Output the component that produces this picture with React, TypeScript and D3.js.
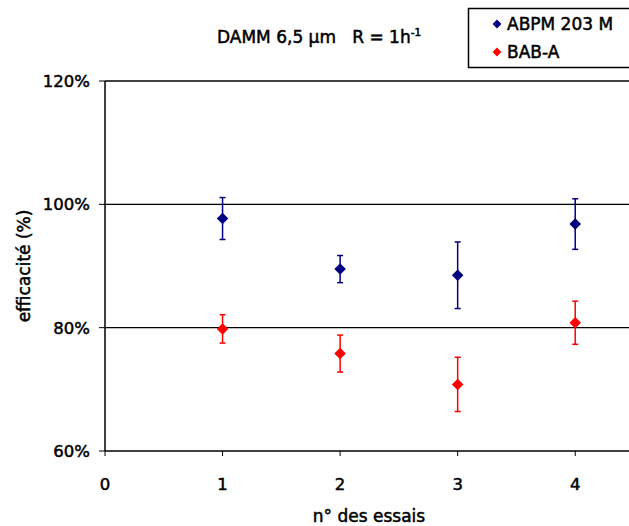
import React from 'react'
import * as d3 from 'd3'

// n° des essais
const trials = [1, 2, 3, 4]
// efficacité (%) and error half-widths
const abpmValues = [97.7, 89.5, 88.5, 96.8]
const abpmErrors = [3.4, 2.2, 5.4, 4.1]
const babValues = [79.8, 75.8, 70.8, 80.8]
const babErrors = [2.3, 3.0, 4.4, 3.5]
const yTicks = [60, 80, 100, 120]
const xTicks = [0, 1, 2, 3, 4]
const seriesNames = ['ABPM 203 M', 'BAB-A']
const seriesColors = ['#000080', '#FF0000']

const W = 629
const H = 526
const FONT = "'DejaVu Sans', sans-serif"

// slightly heavier than the regular weight
const txt = { fill: '#000', stroke: '#000', strokeWidth: 0.5 }

export default function App() {
  const x = d3.scaleLinear().domain([0, 4.5]).range([105, 634])
  const y = d3.scaleLinear().domain([60, 120]).range([451, 81])

  const series = [
    { name: seriesNames[0], color: seriesColors[0], values: abpmValues, errors: abpmErrors },
    { name: seriesNames[1], color: seriesColors[1], values: babValues, errors: babErrors },
  ]

  const diamond = d3.symbol(d3.symbolDiamond2, 85)()
  const smallDiamond = d3.symbol(d3.symbolDiamond2, 50)()

  return (
    <svg width={W} height={H} style={{ position: 'absolute', left: 0, top: 0, background: '#fff' }}
      fontFamily={FONT}>
      {/* gridlines */}
      {yTicks.filter(t => t > 60 && t < 120).map(t => (
        <line key={t} x1={x(0)} x2={W} y1={y(t)} y2={y(t)} stroke="#000" strokeWidth={1.3} />
      ))}
      {/* plot frame */}
      <line x1={x(0)} x2={W} y1={y(120)} y2={y(120)} stroke="#000" strokeWidth={1.5} />
      <line x1={x(0)} x2={W} y1={y(60)} y2={y(60)} stroke="#000" strokeWidth={1.5} />
      <line x1={x(0)} x2={x(0)} y1={y(120)} y2={y(60)} stroke="#000" strokeWidth={1.5} />

      {/* y axis */}
      {yTicks.map(t => (
        <g key={t}>
          <line x1={x(0) - 6} x2={x(0)} y1={y(t)} y2={y(t)} stroke="#000" strokeWidth={1} />
          <text x={90} y={y(t)} dy="0.36em" textAnchor="end" fontSize={16.5} {...txt}>{t}%</text>
        </g>
      ))}
      {/* x axis */}
      {xTicks.map(t => (
        <g key={t}>
          <line x1={x(t)} x2={x(t)} y1={y(60)} y2={y(60) + 5} stroke="#000" strokeWidth={1} />
          <text x={x(t)} y={484} dy="0.36em" textAnchor="middle" fontSize={16.5} {...txt}>{t}</text>
        </g>
      ))}

      <text x={369} y={516} dy="0.36em" textAnchor="middle" fontSize={17} {...txt}>n°  des essais</text>
      <text transform={`translate(24,266) rotate(-90)`} dy="0.36em" textAnchor="middle" fontSize={17} {...txt}>efficacité (%)</text>

      {/* title */}
      <text x={217} y={43} fontSize={17} {...txt}>
        DAMM 6,5 µm{'\u00a0\u00a0\u00a0'}R = 1h<tspan dy={-7} fontSize={10.5}>-1</tspan>
      </text>

      {/* error bars and markers */}
      {series.map(s => (
        <g key={s.name}>
          {trials.map((t, i) => {
            const cx = x(t)
            const top = y(s.values[i] + s.errors[i])
            const bot = y(s.values[i] - s.errors[i])
            return (
              <g key={t}>
                <line x1={cx} x2={cx} y1={top} y2={bot} stroke={s.color} strokeWidth={1.5} />
                <line x1={cx - 3} x2={cx + 3} y1={top} y2={top} stroke={s.color} strokeWidth={1.5} />
                <line x1={cx - 3} x2={cx + 3} y1={bot} y2={bot} stroke={s.color} strokeWidth={1.5} />
                <path d={diamond} transform={`translate(${cx},${y(s.values[i])})`} fill={s.color} />
              </g>
            )
          })}
        </g>
      ))}

      {/* legend */}
      <rect x={468.5} y={8.5} width={170} height={59} fill="#fff" stroke="#000" strokeWidth={1.5} />
      {series.map((s, i) => (
        <g key={s.name} transform={`translate(0,${24 + i * 28})`}>
          <path d={smallDiamond} transform="translate(497,0)" fill={s.color} />
          <text x={507} y={0} dy="0.36em" fontSize={17} {...txt}>{s.name}</text>
        </g>
      ))}
    </svg>
  )
}
